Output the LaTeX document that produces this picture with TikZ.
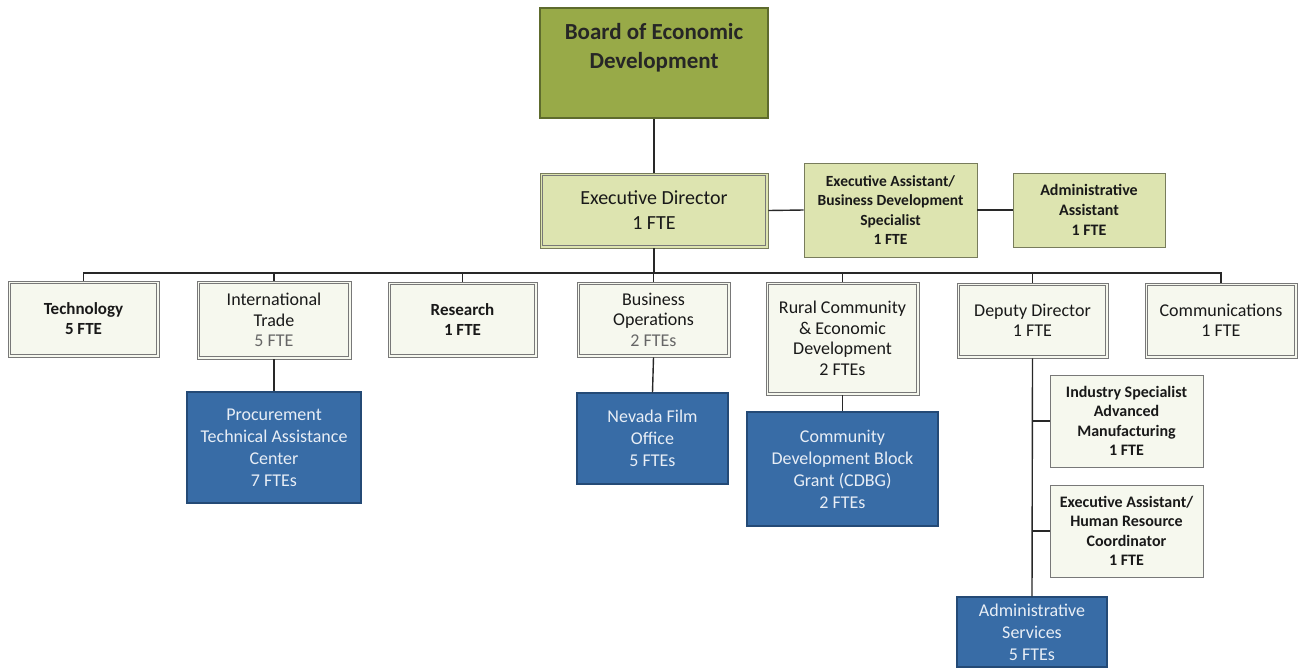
\documentclass[tikz,border=0pt]{standalone}
\usepackage{fontspec}
\setmainfont{Carlito}
\definecolor{boardfill}{RGB}{152,170,72}
\definecolor{boarddraw}{RGB}{94,107,45}
\definecolor{execfill}{RGB}{221,228,176}
\definecolor{execdraw}{RGB}{120,124,92}
\definecolor{unitfill}{RGB}{246,248,238}
\definecolor{unitdraw}{RGB}{120,120,120}
\definecolor{bluefill}{RGB}{56,108,166}
\definecolor{bluedraw}{RGB}{36,74,118}
\definecolor{bluetext}{RGB}{232,238,246}
\definecolor{linecol}{RGB}{40,40,40}
\tikzset{
  boardbox/.style={draw=boarddraw, line width=1.6pt, fill=boardfill, inner sep=0pt},
  boardtxt/.style={font=\bfseries\fontsize{23}{29}\selectfont, text=black!85, align=center, inner sep=0pt},
  execbox/.style={draw=execdraw, line width=0.9pt, fill=execfill, align=center, inner sep=2pt, text=black!90},
  unitbox/.style={draw=unitdraw, line width=0.9pt, fill=unitfill, align=center, inner sep=2pt, text=black!90, font=\fontsize{18}{20.5}\selectfont},
  innerframe/.style={draw=unitdraw, line width=0.7pt},
  subbox/.style={draw=unitdraw, line width=0.9pt, fill=unitfill, align=center, inner sep=2pt, text=black!90, font=\bfseries\fontsize{16}{19.5}\selectfont},
  bluebox/.style={draw=bluedraw, line width=1.2pt, fill=bluefill, align=center, inner sep=2pt, text=bluetext, font=\fontsize{18}{22}\selectfont},
  conn/.style={draw=linecol, line width=1.4pt}
}
\begin{document}
\begin{tikzpicture}[x=1pt,y=-1pt]
\useasboundingbox (0,0) rectangle (1299,667);
% top
\node[boardbox, minimum width=228pt, minimum height=110pt] (board) at (654,63) {};
\node[boardtxt] (boardlbl) at (654,47.5) {Board of Economic\\Development};
\node[execbox, minimum width=228pt, minimum height=75pt, font=\fontsize{20}{25}\selectfont] (exec) at (654,210.5) {Executive Director\\1 FTE};
\node[execbox, minimum width=173pt, minimum height=94pt, font=\bfseries\fontsize{15.5}{19.5}\selectfont] (eabd) at (890.5,210) {Executive Assistant/\\Business Development\\Specialist\\1 FTE};
\node[execbox, minimum width=152pt, minimum height=74pt, font=\bfseries\fontsize{16}{20}\selectfont] (aa) at (1089,210) {Administrative\\Assistant\\1 FTE};
% row 2
\node[unitbox, minimum width=151pt, minimum height=76pt, font=\bfseries\fontsize{17}{20}\selectfont] (tech) at (83.5,319) {Technology\\5 FTE};
\node[unitbox, minimum width=154pt, minimum height=78pt] (trade) at (274,320) {International\\Trade\\{\color{black!60}5 FTE}};
\node[unitbox, minimum width=149pt, minimum height=75pt, font=\bfseries\fontsize{17}{20}\selectfont] (research) at (462.5,319.5) {Research\\1 FTE};
\node[unitbox, minimum width=153pt, minimum height=75pt] (busop) at (653.5,319.5) {Business\\Operations\\{\color{black!60}2 FTEs}};
\node[unitbox, minimum width=153pt, minimum height=113pt] (rural) at (842.5,338.5) {Rural Community\\\& Economic\\Development\\2 FTEs};
\node[unitbox, minimum width=151pt, minimum height=75pt] (deputy) at (1032.5,320.5) {Deputy Director\\1 FTE};
\node[unitbox, minimum width=152pt, minimum height=75pt] (comm) at (1221,320.5) {Communications\\1 FTE};
\foreach \n in {exec,tech,trade,research,busop,rural,deputy,comm}
  \draw[innerframe] ([shift={(3pt,-3pt)}]\n.north west) rectangle ([shift={(-3pt,3pt)}]\n.south east);
% row 3
\node[bluebox, minimum width=174pt, minimum height=111pt] (ptac) at (274,447.5) {Procurement\\Technical Assistance\\Center\\7 FTEs};
\node[bluebox, minimum width=151pt, minimum height=91pt] (film) at (652.5,438.5) {Nevada Film\\Office\\5 FTEs};
\node[bluebox, minimum width=191pt, minimum height=114pt] (cdbg) at (842.5,469) {Community\\Development Block\\Grant (CDBG)\\2 FTEs};
\node[subbox, minimum width=153pt, minimum height=92pt] (indspec) at (1126.5,421) {Industry Specialist\\Advanced\\Manufacturing\\1 FTE};
\node[subbox, minimum width=153pt, minimum height=92pt] (eahr) at (1126.5,531) {Executive Assistant/\\Human Resource\\Coordinator\\1 FTE};
\node[bluebox, minimum width=150pt, minimum height=70pt] (adminsvc) at (1032,632) {Administrative\\Services\\5 FTEs};
% connectors
\coordinate (bus) at (654,273);
\draw[conn] (board.south) -- (exec.north);
\draw[conn] (exec.east) -- (eabd.west);
\draw[conn] (eabd.east) -- (aa.west);
\draw[conn] (exec.south) -- (bus);
\draw[conn] (tech.north) |- (bus);
\draw[conn] (trade.north) |- (bus);
\draw[conn] (research.north) |- (bus);
\draw[conn] (busop.north) |- (bus);
\draw[conn] (rural.north) |- (bus);
\draw[conn] (deputy.north) |- (bus);
\draw[conn] (comm.north) |- (bus);
\draw[conn] (trade.south) -- (ptac.north);
\draw[conn] (busop.south) -- (film.north);
\draw[conn] (rural.south) -- (cdbg.north);
\draw[conn] (deputy.south) -- (adminsvc.north);
\draw[conn] (indspec.west) -- (indspec.west -| deputy.south);
\draw[conn] (eahr.west) -- (eahr.west -| deputy.south);
\end{tikzpicture}
\end{document}
